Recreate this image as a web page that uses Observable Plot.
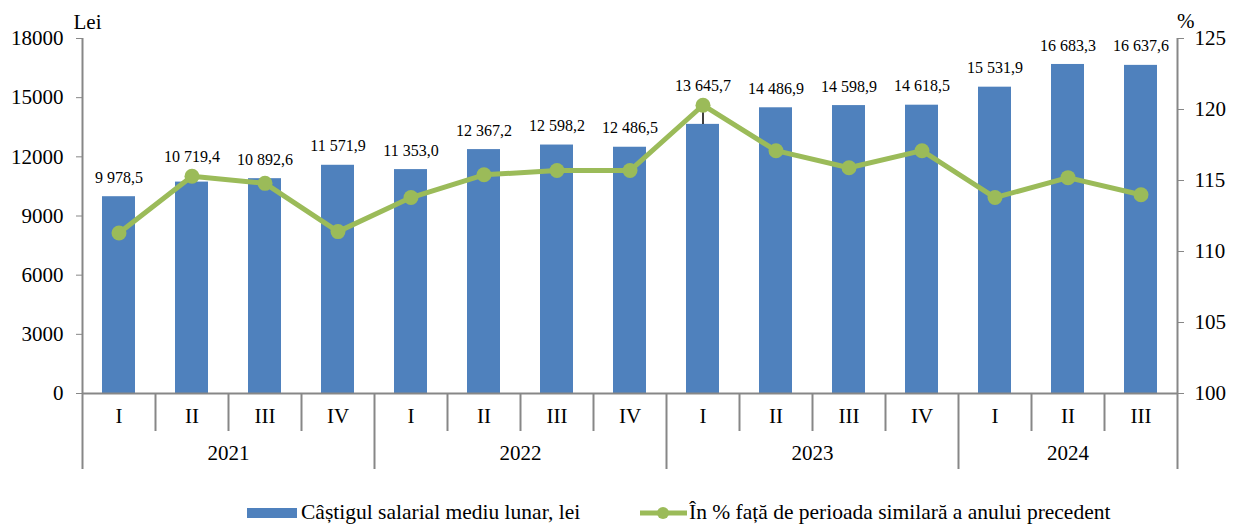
<!DOCTYPE html>
<html>
<head>
<meta charset="utf-8">
<script src="https://cdn.jsdelivr.net/npm/d3@7"></script>
<script src="https://cdn.jsdelivr.net/npm/@observablehq/plot@0.6"></script>
<style>
  body { margin: 0; background: #fff; font-family: 'Liberation Serif', 'DejaVu Serif', serif; }
  #legend { position: relative; height: 27px; font-size: 21.5px; color: #000; font-family: 'Liberation Serif', 'DejaVu Serif', serif; }
  .item { position: absolute; top: 0; height: 27px; display: flex; align-items: center; white-space: nowrap; }
</style>
</head>
<body>
<div id="chart"></div>
<div id="legend">
  <div class="item" style="left:247px">
    <svg width="52" height="12" style="margin-right:2px"><rect x="0" y="1" width="50" height="10" fill="#4F81BD"></rect></svg>
    <span>Câștigul salarial mediu lunar, lei</span>
  </div>
  <div class="item" style="left:640px">
    <svg width="48" height="16" style="margin-right:1px"><line x1="0" y1="8" x2="47" y2="8" stroke="#9BBB59" stroke-width="5"></line><circle cx="23" cy="8" r="6" fill="#9BBB59"></circle></svg>
    <span>În % față de perioada similară a anului precedent</span>
  </div>
</div>
<script>
const years = ["2021", "2022", "2023", "2024"];
const quarters = ["I", "II", "III", "IV", "I", "II", "III", "IV", "I", "II", "III", "IV", "I", "II", "III"];
const quarterYears = ["2021","2021","2021","2021","2022","2022","2022","2022","2023","2023","2023","2023","2024","2024","2024"];
const wages = [9978.5, 10719.4, 10892.6, 11571.9, 11353.0, 12367.2, 12598.2, 12486.5, 13645.7, 14486.9, 14598.9, 14618.5, 15531.9, 16683.3, 16637.6];
const percents = [111.3, 115.3, 114.8, 111.4, 113.8, 115.4, 115.7, 115.7, 120.3, 117.1, 115.9, 117.1, 113.8, 115.2, 114.0];
const leftTicks = [0, 3000, 6000, 9000, 12000, 15000, 18000];
const rightTicks = [100, 105, 110, 115, 120, 125];

const leftMax = 18000, pMin = 100, pMax = 125;
const toLei = p => (p - pMin) / (pMax - pMin) * leftMax;
const fromLei = v => Math.round(v / leftMax * (pMax - pMin) + pMin);

const locale = d3.formatLocale({decimal: ",", thousands: " ", grouping: [3], currency: ["", ""]});
const fmt = locale.format(",.1f");

const data = wages.map((w, i) => ({
  i, q: quarters[i], year: quarterYears[i], wage: w, pct: percents[i],
  pctLei: toLei(percents[i]), labelY: Math.max(w, toLei(percents[i]))
}));

const yearSpans = years.map(y => {
  const idx = data.filter(d => d.year === y).map(d => d.i);
  return {year: y, start: d3.min(idx), end: d3.max(idx) + 1};
});
const yearBounds = [0, ...yearSpans.map(s => s.end)];
const quarterBounds = d3.range(1, quarters.length).filter(b => !yearBounds.includes(b));

const n = quarters.length;
const axisGray = "#878787";
const serif = "'Liberation Serif', 'DejaVu Serif', serif";
const fs = 21;

const chart = Plot.plot({
  width: 1235,
  height: 499,
  marginLeft: 82,
  marginRight: 58,
  marginTop: 38,
  marginBottom: 106,
  style: {fontFamily: serif, fontSize: fs + "px", color: "#000", background: "#fff"},
  x: {type: "linear", domain: [0, n], axis: null},
  y: {domain: [0, leftMax], axis: null},
  marks: [
    Plot.rectY(data, {x1: d => d.i, x2: d => d.i + 1, y: "wage", fill: "#4F81BD", insetLeft: 20, insetRight: 20}),
    Plot.ruleY([0], {stroke: axisGray, strokeWidth: 2}),
    Plot.ruleX([0, n], {y1: 0, y2: leftMax, stroke: axisGray, strokeWidth: 2}),
    Plot.axisY({anchor: "left", ticks: leftTicks, tickFormat: d => String(d), tickSize: 6, tickPadding: 13, stroke: axisGray, fill: "#000", fontSize: fs, fontFamily: serif}),
    Plot.axisY({anchor: "right", ticks: rightTicks.map(toLei), tickFormat: v => String(fromLei(v)), tickSize: 6, tickPadding: 11, stroke: axisGray, fill: "#000", fontSize: fs, fontFamily: serif}),
    Plot.axisX({anchor: "bottom", ticks: quarterBounds, tickSize: 38, tickFormat: () => "", stroke: axisGray, strokeWidth: 2}),
    Plot.axisX({anchor: "bottom", ticks: yearBounds, tickSize: 76, tickFormat: () => "", stroke: axisGray, strokeWidth: 2}),
    Plot.axisX({anchor: "bottom", ticks: data.map(d => d.i + 0.5), tickSize: 0, tickPadding: 15, tickFormat: v => quarters[Math.floor(v)], fill: "#000", fontSize: fs, fontFamily: serif}),
    Plot.axisX({anchor: "bottom", ticks: yearSpans.map(s => (s.start + s.end) / 2), tickSize: 0, tickPadding: 52, tickFormat: v => yearSpans.find(s => (s.start + s.end) / 2 === v).year, fill: "#000", fontSize: fs, fontFamily: serif}),
    Plot.ruleX(data.filter(d => d.pctLei - d.wage > 800), {x: d => d.i + 0.5, y1: "wage", y2: "pctLei", stroke: "#000", strokeWidth: 1.5}),
    Plot.line(data, {x: d => d.i + 0.5, y: "pctLei", stroke: "#9BBB59", strokeWidth: 5}),
    Plot.dot(data, {x: d => d.i + 0.5, y: "pctLei", r: 7.5, fill: "#9BBB59"}),
    Plot.text(data, {x: d => d.i + 0.5, y: "labelY", text: d => fmt(d.wage), dy: -19, fontSize: 16, fill: "#000", fontFamily: serif}),
    Plot.text(["Lei"], {frameAnchor: "top-left", dx: -9, dy: -24, fontSize: fs, fill: "#000", textAnchor: "start", fontFamily: serif}),
    Plot.text(["%"], {frameAnchor: "top-right", dx: 17, dy: -25, fontSize: fs, fill: "#000", textAnchor: "end", fontFamily: serif})
  ]
});
document.getElementById("chart").appendChild(chart);
</script>
</body>
</html>
